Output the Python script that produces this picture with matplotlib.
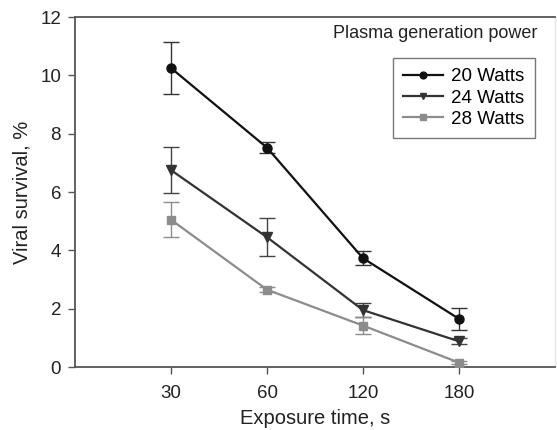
import matplotlib
matplotlib.use("Agg")
import matplotlib.pyplot as plt

plt.rcParams['font.family'] = ['Liberation Sans', 'DejaVu Sans']

time_labels = ["30", "60", "120", "180"]
w20 = [10.25, 7.52, 3.73, 1.65]
w20_err = [0.88, 0.18, 0.24, 0.39]
w24 = [6.75, 4.45, 1.95, 0.88]
w24_err = [0.80, 0.66, 0.24, 0.10]
w28 = [5.05, 2.65, 1.42, 0.15]
w28_err = [0.60, 0.08, 0.30, 0.06]
series_names = ["20 Watts", "24 Watts", "28 Watts"]

fig = plt.figure(figsize=(5.57, 4.30), dpi=100)
ax = fig.add_axes([75/557, 1 - 367/430, (555-75)/557, (367-17)/430])

x = list(range(1, len(time_labels) + 1))
styles = [
    (w20, w20_err, 'o', '#111111', '#333333', 6.5),
    (w24, w24_err, 'v', '#333333', '#444444', 6.5),
    (w28, w28_err, 's', '#8c8c8c', '#8c8c8c', 5.5),
]
for (vals, errs, mk, col, ecol, ms), name in zip(styles, series_names):
    ax.errorbar(x, vals, yerr=errs, fmt='none', ecolor=ecol, elinewidth=1.0,
                capsize=6, capthick=1.0, zorder=2)
    ax.plot(x, vals, marker=mk, color=col, markersize=ms, linewidth=1.6,
            label=name, zorder=3)

ax.set_xlim(0, 5)
ax.set_ylim(0, 12)
ax.set_xticks(x)
ax.set_xticklabels(time_labels)
ax.set_yticks([0, 2, 4, 6, 8, 10, 12])
ax.tick_params(axis='both', direction='out', length=5, width=1, color='#555555',
               labelsize=13.5, labelcolor='#222222', pad=5)
ax.tick_params(axis='x', pad=8)
for s in ['left', 'bottom', 'top']:
    ax.spines[s].set_color('#555555')
    ax.spines[s].set_linewidth(1.3)
ax.spines['right'].set_color('#e6e6e6')
ax.spines['right'].set_linewidth(1.0)

ax.set_xlabel("Exposure time, s", fontsize=14.5, color='#222222', labelpad=5)
ax.set_ylabel("Viral survival, %", fontsize=14.5, color='#222222', labelpad=6)

leg = ax.legend(loc='upper left', bbox_to_anchor=((393-75)/480, (367-58)/350),
                fontsize=13.5, frameon=True, fancybox=False, edgecolor='#555555',
                handlelength=2.1, handletextpad=0.45, borderpad=0.55,
                labelspacing=0.22, borderaxespad=0, markerscale=0.75)
leg.get_frame().set_linewidth(1.0)

ax.text((537-75)/480, (367-33)/350, "Plasma generation power", transform=ax.transAxes,
        ha='right', va='center', fontsize=13, color='#222222')

fig.savefig("out.png", dpi=100)
